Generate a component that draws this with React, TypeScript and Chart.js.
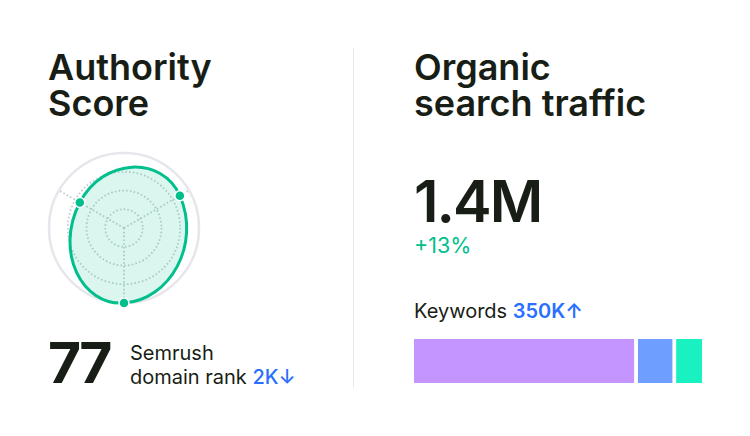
import React, { useEffect, useRef } from "react";
import { Chart, registerables } from "chart.js";

Chart.register(...registerables);

const radarAxes = ["Search", "Backlinks", "Traffic"];
const radarValues = [86, 100, 68];
const radarTicks = [0, 25, 50, 75, 100];
const keywordLabels = ["Keywords"];
const keywordShares = [77.7, 13.3, 9.0];
const keywordColors = ["#C495FF", "#6E9EFF", "#19F2C0"];

const INK = "#181E15";
const BLUE = "#2A6FFF";
const GREEN = "#00BF8C";

function T({ x, y, size, weight = 400, color = INK, children, lh, ls }: any) {
  return (
    <div
      style={{
        position: "absolute",
        left: x,
        top: y,
        fontSize: size,
        fontWeight: weight,
        color,
        letterSpacing: ls,
        lineHeight: lh ? lh + "px" : "normal",
        whiteSpace: "pre",
      }}
    >
      {children}
    </div>
  );
}

export default function App() {
  const radarRef = useRef<HTMLCanvasElement>(null);
  const barRef = useRef<HTMLCanvasElement>(null);

  useEffect(() => {
    const radar = new Chart(radarRef.current!, {
      type: "radar",
      data: {
        labels: radarAxes,
        datasets: [
          {
            data: radarValues,
            borderColor: GREEN,
            borderWidth: 3,
            backgroundColor: "rgba(0,191,140,0.14)",
            fill: true,
            tension: 0.88,
            pointRadius: 5,
            pointBackgroundColor: GREEN,
            pointBorderColor: "#ffffff",
            pointBorderWidth: 1.5,
          },
        ],
      },
      options: {
        animation: false,
        responsive: false,
        layout: { padding: 7 },
        elements: { line: { capBezierPoints: false } },
        plugins: { legend: { display: false }, tooltip: { enabled: false } },
        scales: {
          r: {
            min: 0,
            max: 100,
            startAngle: 60,
            afterBuildTicks: (s: any) => {
              s.ticks = radarTicks.map((value) => ({ value }));
            },
            ticks: { display: false },
            pointLabels: { display: false },
            grid: {
              circular: true,
              color: (c: any) => (c.tick.value === 100 ? "#E6E6EC" : "#C4CEcc"),
              lineWidth: (c: any) => (c.tick.value === 100 ? 2.5 : 1.8),
            },
            border: { dash: (c: any) => (c.tick.value === 100 ? [] : [1.6, 2.2]) },
            angleLines: { color: "#C4CEcc", lineWidth: 1.8, borderDash: [1.6, 2.2] },
          } as any,
        },
      },
    } as any);

    const bar = new Chart(barRef.current!, {
      type: "bar",
      data: {
        labels: keywordLabels,
        datasets: keywordShares.map((v, i) => ({
          data: [v],
          backgroundColor: keywordColors[i],
          borderColor: "#ffffff",
          borderWidth: i < keywordShares.length - 1 ? { right: 4 } : 0,
          borderSkipped: false,
          barPercentage: 1,
          categoryPercentage: 1,
        })),
      },
      options: {
        indexAxis: "y",
        animation: false,
        responsive: false,
        plugins: { legend: { display: false }, tooltip: { enabled: false } },
        scales: {
          x: { stacked: true, min: 0, max: 100, display: false },
          y: { stacked: true, display: false },
        },
      },
    } as any);

    return () => {
      radar.destroy();
      bar.destroy();
    };
  }, []);

  return (
    <div
      style={{
        position: "fixed",
        left: 0,
        top: 0,
        width: 750,
        height: 436,
        background: "#fff",
        fontFamily: "Inter, sans-serif",
        overflow: "hidden",
      }}
    >
      <T x={48} y={49} size={36} weight={600} lh={36}>{"Authority\nScore"}</T>
      <T x={414} y={49} size={36} weight={600} lh={36}>{"Organic\nsearch traffic"}</T>
      <div style={{ position: "absolute", left: 353, top: 48, width: 1, height: 340, background: "#E9E9EE" }} />
      <canvas
        ref={radarRef}
        width={164}
        height={164}
        style={{ position: "absolute", left: 42, top: 146, width: 164, height: 164 }}
      />
      <T x={48} y={333} size={57} weight={700} lh={60} ls={-3}>77</T>
      <T x={130} y={341} size={20} lh={24}>
        {"Semrush\ndomain rank "}
        <span style={{ color: BLUE, fontWeight: 500 }}>2K↓</span>
      </T>
      <T x={414} y={171} size={58} weight={600} lh={60} ls={-2}>1.4M</T>
      <T x={414} y={232} size={21.5} color={GREEN} lh={26}>+13%</T>
      <T x={414} y={299} size={20} lh={24}>
        {"Keywords "}
        <span style={{ color: BLUE, fontWeight: 600 }}>350K↑</span>
      </T>
      <canvas
        ref={barRef}
        width={288}
        height={44}
        style={{ position: "absolute", left: 414, top: 339, width: 288, height: 44 }}
      />
    </div>
  );
}
